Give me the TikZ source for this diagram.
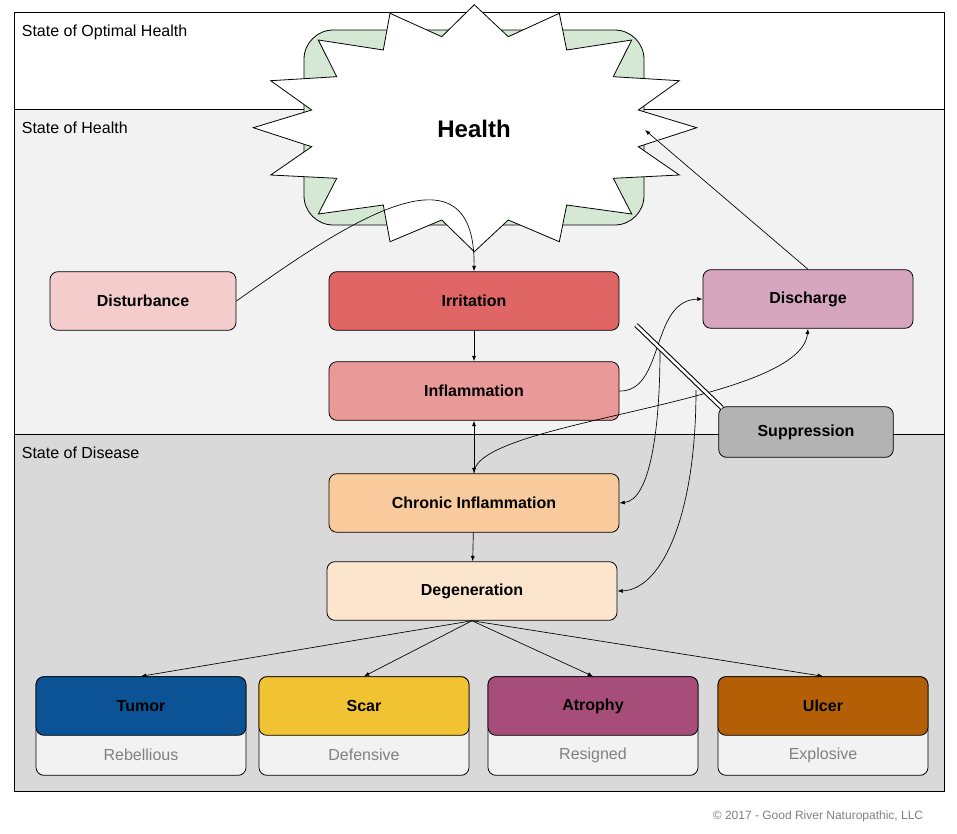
\documentclass[tikz,border=0pt]{standalone}
\usepackage{fontspec}
\setmainfont{Liberation Sans}
\usetikzlibrary{arrows.meta}
\definecolor{bandhealth}{HTML}{F2F2F2}
\definecolor{banddisease}{HTML}{D9D9D9}
\definecolor{greenbg}{HTML}{D5E8D4}
\definecolor{disturbc}{HTML}{F4CCCC}
\definecolor{irritc}{HTML}{E06666}
\definecolor{inflamc}{HTML}{EA9999}
\definecolor{dischc}{HTML}{D5A6BD}
\definecolor{suppc}{HTML}{B3B3B3}
\definecolor{chronc}{HTML}{F9CB9C}
\definecolor{degenc}{HTML}{FCE5CD}
\definecolor{tumorc}{HTML}{0B5394}
\definecolor{scarc}{HTML}{F1C232}
\definecolor{atrophyc}{HTML}{A64D79}
\definecolor{ulcerc}{HTML}{B45F06}
\definecolor{subtext}{HTML}{808080}

\tikzset{every path/.style={line width=0.6pt},
  box/.style={draw, rounded corners=6pt, minimum width=217.5pt, minimum height=44pt, font=\fontsize{12}{14}\bfseries\selectfont},
  card/.style={draw, rounded corners=6pt, minimum width=157.5pt, minimum height=44pt, font=\fontsize{12}{14}\bfseries\selectfont},
  sub/.style={draw, rounded corners=6pt, fill=bandhealth, minimum width=157.5pt, minimum height=74pt, text=subtext, font=\fontsize{12}{14}\selectfont},
  band/.style={anchor=north west, font=\fontsize{12}{14}\selectfont},
  link/.style={-{Latex[length=4pt,width=3pt]}, line width=0.5pt}}

\begin{document}
\begin{tikzpicture}[x=0.75pt,y=-0.75pt]
\useasboundingbox (0,0) rectangle (957,833);
% bands
\draw[fill=white] (14,12) rectangle (944,109);
\draw[fill=bandhealth] (14,109) rectangle (944,434);
\draw[fill=banddisease] (14,434) rectangle (944,791);
\node[band] (optlbl) at (17,20) {State of Optimal Health};
\node[band] (heallbl) at (17,117) {State of Health};
\node[band] (dislbl) at (17,442) {State of Disease};

% health
\draw[fill=greenbg, rounded corners=22pt] (304,30) rectangle (644,225);
\draw[fill=white] (474.3,4.7) -- (508.3,36.7) -- (559.3,13.3) -- (566.7,50) -- (631.7,40)
  -- (613.3,76.7) -- (679.3,80.7) -- (638.3,110) -- (696.7,127.7) -- (638.3,146.7)
  -- (679.3,175) -- (613.3,178.3) -- (631.7,214) -- (566.7,205) -- (559.3,241.7)
  -- (508.3,220) -- (474.3,251.7) -- (441.7,220) -- (390,241.7) -- (383.3,205)
  -- (318.3,214) -- (336.7,178.3) -- (270.7,175) -- (311.7,146.7) -- (253.3,127.7)
  -- (311.7,110) -- (270.7,80.7) -- (336.7,76.7) -- (318.3,40) -- (383.3,50)
  -- (390,13.3) -- (441.7,36.7) -- cycle;
\node[font=\fontsize{18}{20}\bfseries\selectfont] (health) at (474,129) {Health};
\coordinate (healthin) at (645,130);

% states
\node[box, fill=disturbc, minimum width=139.5pt] (disturb) at (143,301) {Disturbance};
\node[box, fill=irritc] (irrit) at (474,301) {Irritation};
\node[box, fill=inflamc] (inflam) at (474,391) {Inflammation};
\node[box, fill=dischc, minimum width=157.5pt] (disch) at (808,299) {Discharge};
\node[box, fill=chronc] (chron) at (474,503) {Chronic Inflammation};
\node[box, fill=degenc] (degen) at (472,591) {Degeneration};
\node[box, fill=suppc, minimum width=131pt, minimum height=38pt] (supp) at (806,432) {Suppression};

% outcomes
\foreach \name/\x/\col/\txt/\desc in {tumor/141/tumorc/Tumor/Rebellious, scar/364/scarc/Scar/Defensive,
  atrophy/593/atrophyc/Atrophy/Resigned, ulcer/823/ulcerc/Ulcer/Explosive} {
  \node[sub, text depth=0pt, inner sep=0pt] (\name sub) at (\x,726) {};
  \node[text=subtext, font=\fontsize{12}{14}\selectfont] (\name desc) at (\x,755) {\desc};
  \node[card, fill=\col] (\name) at (\x,706) {\txt};
  \draw[link] (degen.south) -- (\name.north);
}

% links
\draw[link] (disturb.east) .. controls (330,235) and (476,130) .. (irrit.north);
\draw[link] (irrit) -- (inflam);
\draw[link, {Latex[length=4pt,width=3pt]}-{Latex[length=4pt,width=3pt]}] (inflam) -- (chron);
\draw[link] (chron) -- (degen);
\draw[link] (disch.north) -- (healthin);
\draw[link] (inflam.east) .. controls (665,392) and (650,300) .. (disch.west);
\draw[link] (chron.north) .. controls (474,420) and (800,405) .. (disch.south);
\coordinate (splitA) at (660,350);
\coordinate (splitB) at (696,390);
\draw[link] (splitA) .. controls (660,430) and (650,500) .. (chron.east);
\draw[link] (splitB) .. controls (696,520) and (660,590) .. (degen.east);
% suppression
\draw[double, double distance=2pt, line width=0.8pt] (636,325) -- (722,408);

\node[text=subtext, font=\fontsize{9}{11}\selectfont] (copy) at (818,816) {© 2017 - Good River Naturopathic, LLC};
\end{tikzpicture}
\end{document}
